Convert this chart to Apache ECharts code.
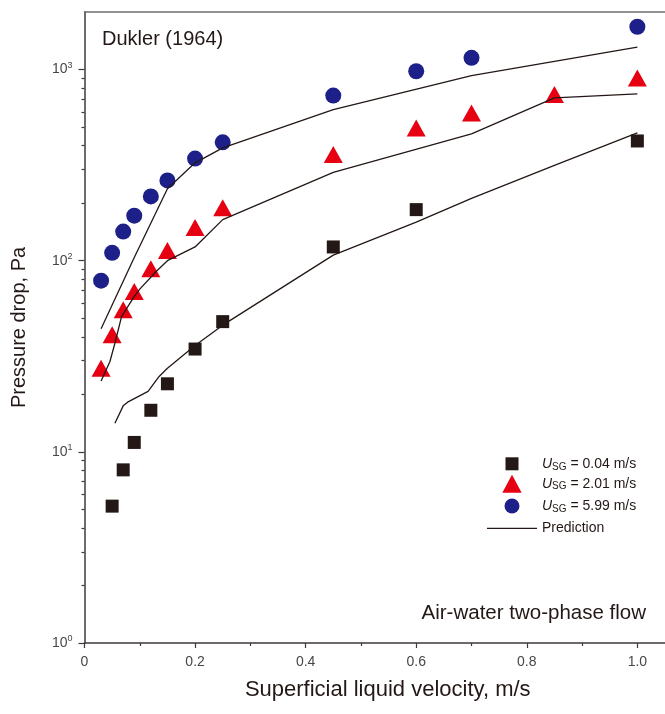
<!DOCTYPE html>
<html>
<head>
<meta charset="utf-8">
<script src="https://cdn.jsdelivr.net/npm/echarts@6/dist/echarts.min.js"></script>
<style>
html,body{margin:0;padding:0;background:#fff;}
#c{width:665px;height:714px;}
</style>
</head>
<body>
<div id="c"></div>
<script>
// ---- data ----
const xTickLabels = [0, 0.2, 0.4, 0.6, 0.8, 1.0];
const xMinorTicks = [0.1, 0.3, 0.5, 0.7, 0.9];
const yTickLabels = [1, 10, 100, 1000];
const yMinorTicks = [2,3,4,5,6,7,8,9,20,30,40,50,60,70,80,90,200,300,400,500,600,700,800,900];

// U_SG = 0.04 m/s (squares)
const sqX = [0.05, 0.07, 0.09, 0.12, 0.15, 0.2, 0.25, 0.45, 0.6, 1.0];
const sqY = [5.2, 8.05, 11.2, 16.5, 22.7, 34.5, 48, 118, 185, 423];
// U_SG = 2.01 m/s (triangles)
const triX = [0.03, 0.05, 0.07, 0.09, 0.12, 0.15, 0.2, 0.25, 0.45, 0.6, 0.7, 0.85, 1.0];
const triY = [27.4, 41, 55.4, 69, 90.8, 113, 149, 189, 359, 495, 593, 740, 904];
// U_SG = 5.99 m/s (circles)
const cirX = [0.03, 0.05, 0.07, 0.09, 0.12, 0.15, 0.2, 0.25, 0.45, 0.6, 0.7, 1.0];
const cirY = [78.6, 110, 142, 172, 217, 263, 342, 416, 731, 980, 1151, 1674];

// Prediction lines
const predSqX = [0.055, 0.07, 0.078, 0.115, 0.135, 0.15, 0.2, 0.25, 0.45, 0.6, 0.7, 0.85, 1.0];
const predSqY = [14.1, 17.4, 18.2, 20.7, 24.8, 27.4, 36, 46, 107, 159, 212, 315, 466];
const predTriX = [0.03, 0.046, 0.055, 0.067, 0.09, 0.1, 0.13, 0.15, 0.2, 0.25, 0.45, 0.7, 0.85, 1.0];
const predTriY = [23.5, 29.7, 37, 51, 65, 71, 88, 100, 118, 164, 290, 461, 711, 746];
const predCirX = [0.03, 0.09, 0.15, 0.2, 0.25, 0.45, 0.7, 1.0];
const predCirY = [44, 104, 238, 325, 389, 617, 930, 1309];

const seriesNames = ['U_SG = 0.04 m/s', 'U_SG = 2.01 m/s', 'U_SG = 5.99 m/s'];

// ---- chart ----
const zip = (a, b) => a.map((v, i) => [v, b[i]]);
const FONT = "'Liberation Sans', Arial, Helvetica, sans-serif";
const DARK = '#231815';
const AXIS = '#3e3a39';
const TICKTXT = '#4a4647';

const legendFormatter = name => name.replace('U_SG', '{i|U}{s|SG}').replace(/( = .*)$/, '{t|$1}');
const legendRich = {
  i: {fontStyle: 'italic', fontSize: 14, color: DARK, fontFamily: FONT},
  s: {fontSize: 10, color: DARK, fontFamily: FONT, padding: [6, 0, 0, 0]},
  t: {fontSize: 14, color: DARK, fontFamily: FONT}
};
// icon slot is 50 px wide starting at x=487; the legend box is laid out on the visible icon,
// so shift by half of the unused slot width to keep icons centred at x=512
function mkLegend(name, icon, iconW, h, center) {
  return {
    data: [{name: name, icon: icon}],
    left: 487 + (50 - iconW) / 2, top: center - h / 2,
    itemWidth: 50, itemHeight: h, itemGap: 0, padding: 0,
    symbolKeepAspect: true, selectedMode: false,
    formatter: legendFormatter,
    textStyle: {fontSize: 14, color: DARK, fontFamily: FONT, rich: legendRich}
  };
}

const chart = echarts.init(document.getElementById('c'), null, {renderer: 'canvas'});
chart.setOption({
  animation: false,
  backgroundColor: '#fff',
  textStyle: {fontFamily: FONT},
  grid: {left: 84.5, top: 12, width: 581.7, height: 631, show: false},
  legend: [
    mkLegend(seriesNames[0], 'path://M0 0H10V10H0Z', 13, 13, 463.3),
    mkLegend(seriesNames[1], 'path://M5 0L10 9.3L0 9.3Z', 19.35, 18, 483.7),
    mkLegend(seriesNames[2], 'circle', 15, 15, 506),
    mkLegend('Prediction', 'path://M0 0H50V1.3H0Z', 50, 14, 528.3)
  ],
  graphic: [
    {type: 'text', x: 102, y: 39.5, z: 10, style: {text: 'Dukler (1964)', font: "20px " + FONT, fill: DARK, align: 'left', verticalAlign: 'middle'}},
    {type: 'text', x: 646, y: 613, z: 10, style: {text: 'Air-water two-phase flow', font: "20.5px " + FONT, fill: DARK, align: 'right', verticalAlign: 'middle'}}
  ],
  xAxis: [
    {
      type: 'value', min: 0, max: 1.05, position: 'bottom',
      name: 'Superficial liquid velocity, m/s', nameLocation: 'middle', nameGap: 36,
      nameTextStyle: {fontSize: 22, color: DARK, fontFamily: FONT, padding: [0, 0, 0, 26]},
      axisLine: {show: true, lineStyle: {color: AXIS, width: 1.5}},
      axisTick: {show: true, customValues: xTickLabels, length: 5, lineStyle: {color: AXIS, width: 1.2}},
      axisLabel: {show: true, customValues: xTickLabels, margin: 12, fontSize: 14, color: TICKTXT, fontFamily: FONT,
        formatter: v => (v === 0 ? '0' : v.toFixed(1))},
      splitLine: {show: false}
    },
    {
      type: 'value', min: 0, max: 1.05, position: 'bottom',
      axisLine: {show: false},
      axisTick: {show: true, customValues: xMinorTicks, length: 3, lineStyle: {color: AXIS, width: 1.2}},
      axisLabel: {show: false},
      splitLine: {show: false}
    },
    {
      type: 'value', min: 0, max: 1.05, position: 'top',
      axisLine: {show: true, lineStyle: {color: '#6f6c6c', width: 1.5}},
      axisTick: {show: false},
      axisLabel: {show: false},
      splitLine: {show: false}
    }
  ],
  yAxis: [
    {
      type: 'log', logBase: 10, min: 1, max: 2000, position: 'left',
      name: 'Pressure drop, Pa', nameLocation: 'middle', nameGap: 55,
      nameTextStyle: {fontSize: 20, color: DARK, fontFamily: FONT},
      axisLine: {show: true, lineStyle: {color: AXIS, width: 1.5}},
      axisTick: {show: true, customValues: yTickLabels, length: 6, lineStyle: {color: AXIS, width: 1.2}},
      axisLabel: {show: true, customValues: yTickLabels, margin: 12, color: TICKTXT, fontFamily: FONT,
        formatter: v => '{b|10}{p|' + Math.round(Math.log10(v)) + '}',
        rich: {
          b: {fontSize: 14, color: TICKTXT, fontFamily: FONT},
          p: {fontSize: 9, color: TICKTXT, fontFamily: FONT, padding: [0, 0, 8, 0]}
        }},
      splitLine: {show: false}
    },
    {
      type: 'log', logBase: 10, min: 1, max: 2000, position: 'left',
      axisLine: {show: false},
      axisTick: {show: true, customValues: yMinorTicks, length: 3, lineStyle: {color: AXIS, width: 1.2}},
      axisLabel: {show: false},
      splitLine: {show: false}
    }
  ],
  series: [
    {type: 'scatter', name: seriesNames[0], data: zip(sqX, sqY), symbol: 'rect', symbolSize: 13, itemStyle: {color: DARK, opacity: 1}, z: 2},
    {type: 'scatter', name: seriesNames[1], data: zip(triX, triY), symbol: 'triangle', symbolSize: [19, 17], itemStyle: {color: '#e60012', opacity: 1}, z: 2},
    {type: 'scatter', name: seriesNames[2], data: zip(cirX, cirY), symbol: 'circle', symbolSize: 16, itemStyle: {color: '#1d2088', opacity: 1}, z: 2},
    {type: 'line', name: 'Prediction', data: zip(predSqX, predSqY), symbol: 'none', showSymbol: false, lineStyle: {color: DARK, width: 1.3}, itemStyle: {color: DARK}, z: 3},
    {type: 'line', name: 'Prediction', data: zip(predTriX, predTriY), symbol: 'none', showSymbol: false, lineStyle: {color: DARK, width: 1.3}, itemStyle: {color: DARK}, z: 3},
    {type: 'line', name: 'Prediction', data: zip(predCirX, predCirY), symbol: 'none', showSymbol: false, lineStyle: {color: DARK, width: 1.3}, itemStyle: {color: DARK}, z: 3}
  ]
});
</script>
</body>
</html>
